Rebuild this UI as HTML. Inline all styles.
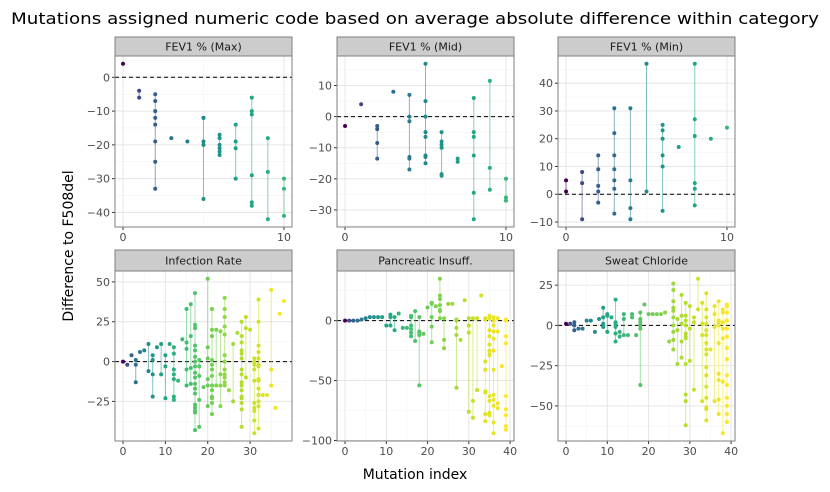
<!DOCTYPE html>
<html><head><meta charset="utf-8"><style>
body{margin:0;background:#fff;}
svg{display:block;font-family:"DejaVu Sans","Liberation Sans",sans-serif;}
</style></head><body>
<svg id="chart" width="830" height="492" viewBox="0 0 830 492">
<text x="415" y="24" text-anchor="middle" font-size="16" textLength="808" lengthAdjust="spacingAndGlyphs" fill="#000">Mutations assigned numeric code based on average absolute difference within category</text>
<text x="0" y="0" transform="translate(73,246) rotate(-90)" text-anchor="middle" font-size="14" fill="#000">Difference to F508del</text>
<text x="415" y="479" text-anchor="middle" font-size="14" fill="#000">Mutation index</text>
</svg>
<script>
const facetNames = ["FEV1 % (Max)","FEV1 % (Mid)","FEV1 % (Min)","Infection Rate","Pancreatic Insuff.","Sweat Chloride"];
const maxValues = [[4],[-4,-6],[-5,-7,-10,-12,-14,-19,-25,-33],[-18],[-19],[-12,-12,-19,-20,-36],[-17,-18,-20,-21,-22,-23],[-14,-19,-21,-30],[-6,-10,-11,-29,-37,-38],[-18,-28,-42],[-30,-33,-41]];
const midValues = [[-3],[4],[-3,-4,-8.5,-13.5],[8],[7,0,-1.5,-13,-13.5,-17],[17,5,0,-5,-6.5,-12.5,-13,-15],[-5,-8,-9,-10,-18.5,-19],[-13.5,-14.5],[6,-5,-6.5,-12.5,-24.5,-33],[11.5,-16.5,-23.5],[-20,-26,-27]];
const minValues = [[5,1],[8,4,-9],[14,9,3,1,-3],[31,22,14,9,5,2,-7],[31,5,-5,-9],[47,1],[25,23,20,14,10,-6],[17],[47,27,21,4,2,-4],[20],[24]];
const infectionValues = [[0],[-2],[4],[1,-2,-13],[6],[7],[11,-6],[4,1,-8,-22],[9],[11,-8],[4,-3,-23],[11],[9,5,-5,-8,-11,-22,-24],[-12],[14],[33,12,8,-5,-15],[36,16,-4,-14],[43,23,21,10,7,3,0,-3,-7,-10,-14,-17,-20,-27,-29,-31,-32,-43],[1,-3,-9,-24,-41],[-16],[52,9,2,-11,-15,-28],[33,20,16,1,-2,-5,-9,-15,-18,-22,-23,-26,-33],[20,-15],[19,-8,-15,-28],[40,33,28,22,17,4,0,-5,-8,-10,-13,-15],[-18],[11,-25],[18],[25,16,12,7,5,2,-5,-8,-13,-15,-18,-22,-23,-26,-30,-41],[28,21,-10],[20],[2,0,-2,-5,-12,-26,-29,-31,-37,-45],[39,25,10,6,2,-2,-3,-11,-12,-17,-21,-25,-28,-42],[-21],[-21],[45,-5,-15],[-29],[30],[38]];
const pancreaticValues = [[0],[0],[0],[0],[1],[2],[3],[3],[3],[3],[-4],[5,3,-4],[3,-8],[6],[-6],[-6],[4,3,-4,-7,-10,-13],[8,-17],[3,-9,-10,-12,-54],[-11],[11],[15,14,3,-5,-18],[12],[35,21,18,13,9,8,2],[2,-16,-23],[14],[14],[1,0,-6,-12,-56],[-16],[17],[2,-4,-10,-76],[2,-67,-81],[2,-58],[21],[2,1,-34,-41,-59,-60,-78,-84],[4,2,-8,-13,-20,-25,-28,-29,-63,-67,-77,-79],[3,0,-4,-9,-15,-25,-41,-62,-66,-71,-85,-94],[2,-9,-69,-73],[-38],[1,0,-13,-19,-63,-74,-79,-88,-91]];
const sweatValues = [[1],[1],[2,0,-3],[-2],[-2],[3],[3],[-4],[4],[11,5,1,-1],[7,6,-4],[5],[16,2,1,-1,-5,-10],[-4,-7],[7,4,-6],[-6],[7,5],[-6],[8,4,2,0,-2,-37],[13],[7],[7],[7],[7],[8],[-10],[26,22,15,11,9,5,0,-4,-9,-15],[4,-3,-24],[19,6,1,-10,-20],[14,6,3,0,-5,-7,-8,-24,-43,-47,-62],[12,-2,-22],[5,2,-40],[29,10],[14,1,-6,-47],[20,10,5,1,-3,-6,-11,-15,-18,-26,-31,-38,-45,-51,-52,-59],[-15],[12,7,-1,-47],[15,3,2,0,-11,-30,-34,-46,-55],[10,8,2,-2,-8,-35,-67],[13,12,8,3,-2,-7,-14,-21,-31,-37,-45,-50,-55,-60]];
const yTicks = [[0,-10,-20,-30,-40],[10,0,-10,-20,-30],[40,30,20,10,0,-10],[50,25,0,-25],[0,-50,-100],[25,0,-25,-50]];
const xTicks = [[0,10],[0,10],[0,10],[0,10,20,30],[0,10,20,30,40],[0,10,20,30,40]];
const allValues = [maxValues,midValues,minValues,infectionValues,pancreaticValues,sweatValues];
const colorScale = [0.66,0.66,0.66,1,1,1];
const colorPower = [0.5,0.5,0.5,0.4,0.4,0.4];

const NS="http://www.w3.org/2000/svg";
const svg=document.getElementById('chart');
const vir=["#440154","#482475","#414487","#355f8d","#2a788e","#21918c","#22a884","#44bf70","#7ad151","#bddf26","#fde725"];
function hex(h){return [1,3,5].map(i=>parseInt(h.substr(i,2),16));}
function viridis(t){t=Math.max(0,Math.min(1,t));const p=t*10,i=Math.min(9,Math.floor(p)),f=p-i;const a=hex(vir[i]),b=hex(vir[i+1]);return 'rgb('+a.map((v,k)=>Math.round(v+(b[k]-v)*f)).join(',')+')';}
function mk(tag,attrs,parent){const e=document.createElementNS(NS,tag);for(const k in attrs)e.setAttribute(k,attrs[k]);(parent||svg).appendChild(e);return e;}
const colsX=[[115,292],[337,514],[558,735]];
const rowsY=[[37,56,227],[250,271,441]];
const fmt=v=>v<0?'\u2212'+(-v):''+v;

allValues.forEach((vals,fi)=>{
  const [x0,x1]=colsX[fi%3];const [st,y0,y1]=rowsY[Math.floor(fi/3)];
  const g=mk('g',{});
  
  
  let lo=Infinity,hi=-Infinity;vals.forEach(a=>a.forEach(v=>{lo=Math.min(lo,v);hi=Math.max(hi,v);}));
  const n=vals.length-1;const xe=n*0.05,ye=(hi-lo)*0.05;
  const xs=v=>x0+(v+xe)/(n+2*xe)*(x1-x0);
  const ys=v=>y1-(v-(lo-ye))/((hi+ye)-(lo-ye))*(y1-y0);
  mk('rect',{x:x0,y:y0,width:x1-x0,height:y1-y0,fill:'#fff'},g);
  const yt=yTicks[fi],xt=xTicks[fi];
  const ystep=Math.abs(yt[0]-yt[1]),xstep=xt.length>1?xt[1]-xt[0]:10;
  for(let v=Math.min(...yt)-ystep/2;v<=Math.max(...yt)+ystep;v+=ystep){const y=ys(v);if(y>y0&&y<y1)mk('line',{x1:x0,x2:x1,y1:y,y2:y,stroke:'#f3f3f3','stroke-width':0.6},g);}
  for(let v=-xstep/2;v<=n+xstep;v+=xstep){const x=xs(v);if(x>x0&&x<x1)mk('line',{x1:x,x2:x,y1:y0,y2:y1,stroke:'#f3f3f3','stroke-width':0.6},g);}
  yt.forEach(v=>{const y=ys(v);mk('line',{x1:x0,x2:x1,y1:y,y2:y,stroke:'#e6e6e6','stroke-width':1},g);
    mk('line',{x1:x0-3,x2:x0,y1:y,y2:y,stroke:'#333','stroke-width':1},g);
    const t=mk('text',{x:x0-5,y:y+4,'text-anchor':'end','font-size':11,fill:'#4d4d4d'},g);t.textContent=fmt(v);
    
    });
  xt.forEach(v=>{const x=xs(v);mk('line',{x1:x,x2:x,y1:y0,y2:y1,stroke:'#e6e6e6','stroke-width':1},g);
    mk('line',{x1:x,x2:x,y1:y1,y2:y1+3,stroke:'#333','stroke-width':1},g);
    const t=mk('text',{x:x,y:y1+14,'text-anchor':'middle','font-size':11,fill:'#4d4d4d'},g);t.textContent=fmt(v);
    
    });
  mk('line',{x1:x0,x2:x1,y1:ys(0),y2:ys(0),stroke:'#000','stroke-width':1,'stroke-dasharray':'4,3'},g);
  vals.forEach((arr,i)=>{
    const c=viridis(colorScale[fi]*Math.pow(i/n,colorPower[fi]));
    if(arr.length>1){const l=mk('line',{x1:xs(i),x2:xs(i),y1:ys(Math.max(...arr)),y2:ys(Math.min(...arr)),stroke:c,'stroke-width':1,'stroke-opacity':0.55},g);
      
      }
    arr.forEach(v=>{const p=mk('circle',{cx:xs(i),cy:ys(v),r:2,fill:c},g);
      
      });
  });
  mk('rect',{x:x0,y:y0,width:x1-x0,height:y1-y0,fill:'none',stroke:'#7f7f7f','stroke-width':1},g);
  const s=mk('rect',{x:x0,y:st,width:x1-x0,height:y0-st,fill:'#cccccc',stroke:'#7f7f7f','stroke-width':1},g);
  
  
  const lt=mk('text',{x:(x0+x1)/2,y:(st+y0)/2+4,'text-anchor':'middle','font-size':11,fill:'#1a1a1a'},g);lt.textContent=facetNames[fi];
  
  
});
</script>
</body></html>
